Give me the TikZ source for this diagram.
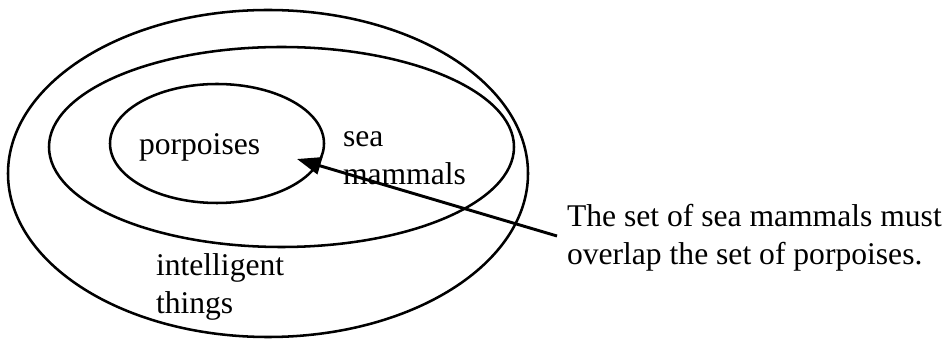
\documentclass[tikz,border=0pt]{standalone}
\usepackage{fontspec}
\setmainfont{Liberation Serif}
\usetikzlibrary{shapes.geometric,arrows.meta}
\tikzset{
  setring/.style={draw, ellipse, line width=1.9pt, inner sep=0pt, outer sep=0pt},
  lbl/.style={inner sep=0pt, outer sep=0pt, anchor=base west, align=left,
    font=\fontsize{23.7pt}{28.8pt}\selectfont},
  pointer/.style={line width=2.2pt, -{Triangle[length=18pt,width=13pt]}}
}
\begin{document}
\begin{tikzpicture}[x=0.75pt,y=-0.75pt]
\useasboundingbox (0,0) rectangle (948,341);
\node[setring, minimum width=520*0.75pt, minimum height=327*0.75pt] (outer) at (268,173.5) {};
\node[setring, minimum width=465*0.75pt, minimum height=200*0.75pt] (middle) at (281.5,147) {};
\node[setring, minimum width=214*0.75pt, minimum height=119*0.75pt] (inner) at (217,143.5) {};
\node[lbl] (porp) at (139,155) {porpoises};
% multi-line labels: base anchor sits on the last line's baseline
\node[lbl] (sea) at (343,185) {sea\\mammals};
\node[lbl] (intel) at (156,314) {intelligent\\things};
\node[lbl] (note) at (567,265) {The set of sea mammals must\\overlap the set of porpoises.};
\coordinate (tail) at (557,236);
\coordinate (tip) at (297,159);
\draw[pointer] (tail) -- (tip);
\end{tikzpicture}
\end{document}
